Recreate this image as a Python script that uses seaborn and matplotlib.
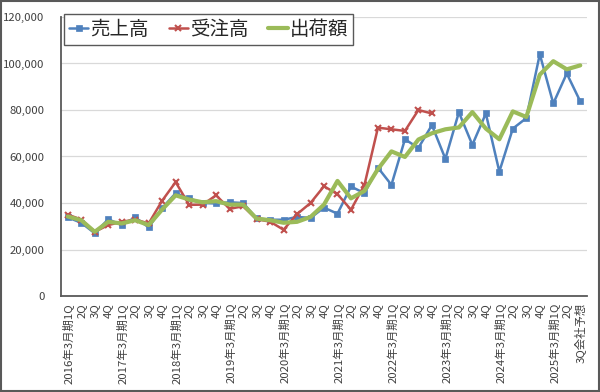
import numpy as np
import pandas as pd
import matplotlib
matplotlib.use("Agg")
import matplotlib.pyplot as plt
from matplotlib.patches import Rectangle
from matplotlib.ticker import FuncFormatter
import seaborn as sns

# ---- data ----
labels = [
    "2016年3月期1Q", "2Q", "3Q", "4Q",
    "2017年3月期1Q", "2Q", "3Q", "4Q",
    "2018年3月期1Q", "2Q", "3Q", "4Q",
    "2019年3月期1Q", "2Q", "3Q", "4Q",
    "2020年3月期1Q", "2Q", "3Q", "4Q",
    "2021年3月期1Q", "2Q", "3Q", "4Q",
    "2022年3月期1Q", "2Q", "3Q", "4Q",
    "2023年3月期1Q", "2Q", "3Q", "4Q",
    "2024年3月期1Q", "2Q", "3Q", "4Q",
    "2025年3月期1Q", "2Q", "3Q会社予想",
]
sales = [33800, 31500, 27000, 33000, 30500, 33800, 29500, 37800,
         44200, 42000, 40000, 39800, 40300, 40000, 33400, 32800,
         32800, 34000, 33600, 38000, 35400, 47100, 44200, 55200,
         47800, 67400, 63700, 73500, 59000, 79000, 65000, 78500,
         53500, 72000, 76500, 104000, 82800, 95700, 83700]
orders = [35000, 32900, 27600, 30500, 31900, 32900, 31200, 41000,
          49000, 39200, 39300, 43300, 37500, 38600, 33000, 32000,
          28500, 35200, 40000, 47200, 43800, 37100, 47800, 72400,
          71700, 71000, 80000, 78500] + [np.nan] * 11
shipments = [34200, 32600, 27600, 31900, 31200, 32600, 30500, 37200,
             43300, 41500, 40300, 40800, 39300, 39300, 33300, 32600,
             31500, 31900, 34000, 39300, 49500, 42000, 45200, 54600,
             62200, 59800, 67300, 70000, 71700, 72500, 79100, 72000,
             67400, 79400, 77000, 95200, 101000, 97500, 99200]
series_names = ["売上高", "受注高", "出荷額"]
y_ticks = [0, 20000, 40000, 60000, 80000, 100000, 120000]

# ---- style ----
sns.set_style("white")
plt.rcParams["font.family"] = ["Noto Sans CJK JP", "DejaVu Sans"]

fig = plt.figure(figsize=(6, 3.92), dpi=100)
ax = fig.add_axes([61 / 600, 96 / 392, 526 / 600, 279 / 392])

df = pd.DataFrame({"idx": np.arange(len(labels)), "sales": sales,
                   "orders": orders, "ship": shipments})

blue, red, green = "#4F81BD", "#C0504D", "#9BBB59"
sns.lineplot(data=df, x="idx", y="sales", ax=ax, color=blue, lw=1.8,
             marker="s", markersize=5, markeredgecolor=blue,
             markeredgewidth=0.5, label=series_names[0])
sns.lineplot(data=df.dropna(subset=["orders"]), x="idx", y="orders", ax=ax,
             color=red, lw=1.8, marker="x", markersize=5,
             markeredgecolor=red, markeredgewidth=1.5,
             label=series_names[1])
sns.lineplot(data=df, x="idx", y="ship", ax=ax, color=green, lw=3,
             label=series_names[2])

ax.set_xlim(-0.5, len(labels) - 0.5)
ax.set_ylim(y_ticks[0], y_ticks[-1])
ax.set_yticks(y_ticks)
ax.yaxis.set_major_formatter(FuncFormatter(lambda v, p: f"{int(v):,}"))
ax.set_xticks(np.arange(len(labels)))
ax.set_xticklabels(labels, rotation=90, fontsize=8.2, color="#404040",
                   va="top", ha="center")
ax.tick_params(axis="y", labelsize=8.2, labelcolor="#404040", length=0, pad=12)
ax.tick_params(axis="x", length=0, pad=5)
ax.set_xlabel("")
ax.set_ylabel("")

ax.grid(False)
ax.yaxis.grid(True, color="#D9D9D9", lw=0.9)
ax.set_axisbelow(True)
for s in ["top", "right"]:
    ax.spines[s].set_visible(False)
for s in ["left", "bottom"]:
    ax.spines[s].set_color("#595959")
    ax.spines[s].set_linewidth(1.3)

leg = ax.legend(loc="upper left", bbox_to_anchor=(64 / 600, 1 - 14 / 392),
                bbox_transform=fig.transFigure, ncol=3, fontsize=14,
                frameon=True, fancybox=False, edgecolor="#595959",
                borderpad=0.25, handlelength=1.0, handletextpad=0.12,
                columnspacing=1.0, borderaxespad=0, framealpha=1)
leg.get_frame().set_linewidth(1.0)

fig.patches.append(Rectangle((0.0015, 0.002), 0.997, 0.996,
                             transform=fig.transFigure, fill=False,
                             edgecolor="#595959", lw=1.5))

fig.savefig("out.png", dpi=100)
